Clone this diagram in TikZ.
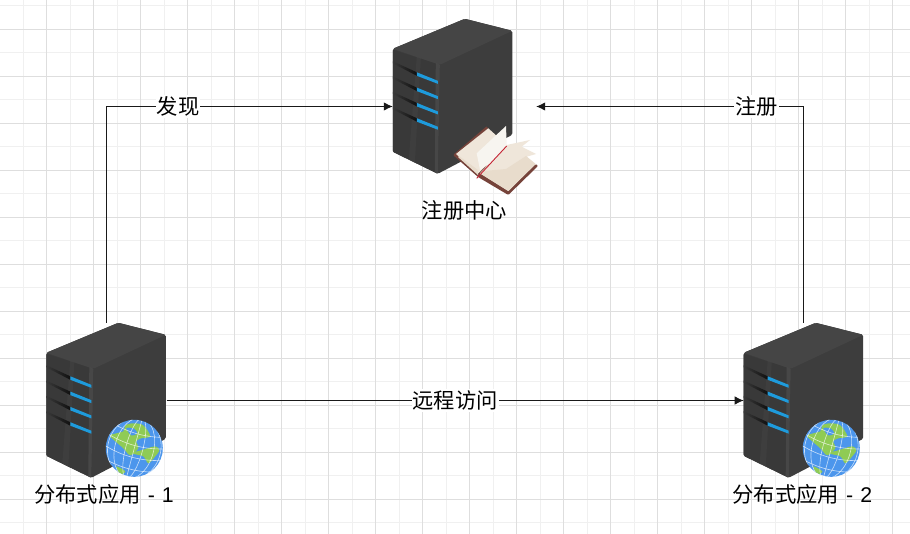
\documentclass[tikz,border=0pt]{standalone}
\usepackage{fontspec}
\setmainfont{Liberation Sans}
\newfontfamily\cjk{Noto Sans CJK SC}
\usetikzlibrary{arrows.meta,positioning}
\definecolor{gridmajor}{HTML}{DEDEDE}
\definecolor{gridminor}{HTML}{F0F0F0}
\definecolor{towertop}{HTML}{454545}
\definecolor{towerside}{HTML}{3D3D3D}
\definecolor{towerfront}{HTML}{393939}
\definecolor{towerlight}{HTML}{5A5A5A}
\definecolor{slotdark}{HTML}{101010}
\definecolor{ledblue}{HTML}{1E9BDC}
\definecolor{seablue}{HTML}{4C96EC}
\definecolor{landgreen}{HTML}{8FCB55}
\definecolor{pagecream}{HTML}{EFE6DA}
\definecolor{pagelight}{HTML}{F7F5F0}
\definecolor{pageshade}{HTML}{E8DCCC}
\definecolor{bookbrown}{HTML}{76433A}
\definecolor{ribbonred}{HTML}{C42434}

\begin{document}
\begin{tikzpicture}[
  x=1pt, y=-1pt,
  every node/.style={font=\fontsize{21.3}{24}\selectfont\cjk, inner sep=0pt},
  machine/.style={minimum width=120pt, minimum height=155pt},
  registrybox/.style={minimum width=143pt, minimum height=175pt},
  tag/.style={fill=white, inner xsep=1pt, inner ysep=2pt},
  arrow/.style={-{Latex[length=9pt,width=8.5pt]}, line width=1pt, draw=black!90},
  mesh/.style={white, line width=.6pt, opacity=.7},
  tower/.pic={
    \fill[towerside, rounded corners=1.5pt] (0,30) -- (72,0) -- (119.5,12) -- (119.5,116) -- (45,155) -- (0,133) -- cycle;
    \fill[towerfront, rounded corners=1pt] (0,31) -- (47,46) -- (45,155) -- (0,133) -- cycle;
    \fill[towertop, rounded corners=1.5pt] (0,30) -- (72,0) -- (119.5,12) -- (47,46) -- cycle;
    \fill[towerlight, opacity=.45] (43,44.5) -- (47,46) -- (45,155) -- (42,153.5) -- cycle;
    \fill[towerlight, opacity=.18] (24,38) -- (28,39.5) -- (22,144) -- (16,141) -- cycle;
    \foreach \row in {0,1,2,3} {
      \shade[left color=towerfront, right color=slotdark] (0,{42.5+15.3*\row}) -- (24,{53.5+15.3*\row}) -- (24,{57+15.3*\row}) -- (0,{44.5+15.3*\row}) -- cycle;
      \fill[ledblue] (24,{53.5+15.3*\row}) -- (45,{62+15.3*\row}) -- (45,{65+15.3*\row}) -- (24,{57+15.3*\row}) -- cycle;
    }
  },
  globe/.pic={
    \fill[seablue] (0,0) circle (28.5);
    \begin{scope}
      \clip (0,0) circle (28.5);
      \fill[landgreen] plot[smooth cycle, tension=.5] coordinates {(-24,-13) (-11,-17) (-9,-23) (-1,-25) (9,-23) (16,-12) (7,-10) (2,-7) (4,0) (-4,7) (-11,0) (-19,-7)};
      \fill[seablue] plot[smooth cycle] coordinates {(-8,-20) (-1,-20) (3,-15) (-3,-13)};
      \fill[landgreen] plot[smooth cycle, tension=.5] coordinates {(-3,5) (7,2) (21,-2) (25,2) (21,8) (14,15) (9,8)};
      \fill[landgreen] plot[smooth cycle, tension=.5] coordinates {(-18,18) (-9,23) (-14,26)};
      \begin{scope}[rotate=-15]
        \foreach \bulge in {.3,.68,.93}
          \draw[mesh] (0,0) circle[x radius={28.5*\bulge}, y radius=31];
        \draw[mesh] (0,-31) -- (0,31);
        \foreach \lift in {-20,-8,4,16}
          \draw[mesh] (-32,\lift) .. controls (-10,{\lift+7}) and (10,{\lift+7}) .. (32,\lift);
      \end{scope}
    \end{scope}
  },
  openbook/.pic={
    \fill[bookbrown, rounded corners=1pt] (-1,0) -- (33,-29) -- (54,36) -- (82,9) -- (84,11) -- (54.3,40) -- (24,22) -- cycle;
    \fill[pagecream] (2,-1) -- (34.3,-26.7) -- (52.7,-10) -- (24.3,18.3) -- cycle;
    \fill[pageshade] (5,1) -- (24,15) -- (24,20) -- (4,2) -- cycle;
    \fill[pagecream] (52.7,-10) -- (76,-15) -- (67.7,-8.3) -- (82,-1) -- (72.7,1.7) -- (81.5,9) -- (54.3,36) -- (26,18.3) -- cycle;
    \fill[pageshade] (30,16) -- (52,14) -- (72,1) -- (81.5,9) -- (54.3,36) -- (26,18.3) -- cycle;
    \fill[pagelight] (22.7,-1.7) -- (52,-29) -- (52.7,-10) -- (41,5) -- (26,15) -- cycle;
    \draw[ribbonred, line width=.9pt] (22.7,23.3) -- (52.7,-9);
  }
]
% grid
\useasboundingbox (0,0) rectangle (910,534);
\fill[white] (0,0) rectangle (910,534);
\foreach \gx in {0,...,38} \draw[gridminor, line width=1pt] ({23.4+47*\gx/2},0) -- ({23.4+47*\gx/2},534);
\foreach \gy in {0,...,22} \draw[gridminor, line width=1pt] (0,{5.7+47*\gy/2}) -- (910,{5.7+47*\gy/2});
\foreach \gx in {0,...,19} \draw[gridmajor, line width=1pt] ({46.8+47*\gx},0) -- ({46.8+47*\gx},534);
\foreach \gy in {0,...,10} \draw[gridmajor, line width=1pt] (0,{29.3+47*\gy}) -- (910,{29.3+47*\gy});

\node[registrybox] (registry) at (464.5,106.5) {};
\node[machine] (appone) at (106.5,400.5) {};
\node[machine, right=577pt of appone] (apptwo) {};
\pic at (registry.north west) {tower};
\pic at (454,155) {openbook};
\pic at (appone.north west) {tower};
\pic at (134.3,448.3) {globe};
\pic at (apptwo.north west) {tower};
\pic at (831.3,448.3) {globe};

\node[below=6pt of registry] (registrytag) {注册中心};
\node[below=6pt of appone, xshift=-2.5pt] (apponetag) {分布式应用\hspace{7pt}{\fontspec{Liberation Sans}-\hspace{7pt}1}};
\node[below=6pt of apptwo, xshift=-1.5pt] (apptwotag) {分布式应用\hspace{7pt}{\fontspec{Liberation Sans}-\hspace{7pt}2}};

\draw[arrow] (appone.north) |- (registry.west) node[pos=.625, tag] (discover) {发现};
\draw[arrow] (apptwo.north) |- (registry.east) node[pos=.588, tag] (enroll) {注册};
\draw[arrow] (appone.east) -- (apptwo.west) node[midway, tag] (invoke) {远程访问};
\end{tikzpicture}
\end{document}
